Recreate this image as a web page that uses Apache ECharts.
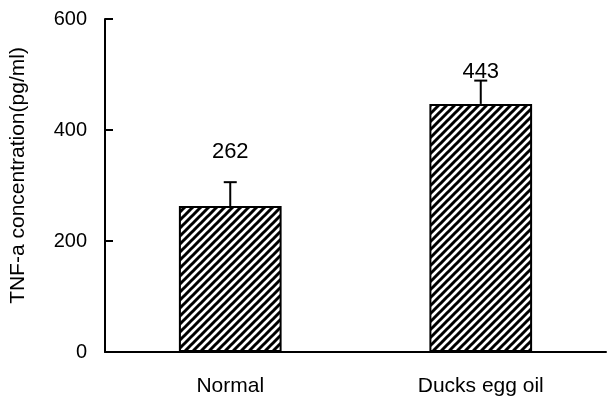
<!DOCTYPE html>
<html>
<head>
<meta charset="utf-8">
<script src="https://cdn.jsdelivr.net/npm/echarts@6/dist/echarts.min.js"></script>
<style>html,body{margin:0;padding:0;background:#fff}#c{width:608px;height:398px}</style>
</head>
<body>
<div id="c"></div>
<script>
var categories = ["Normal", "Ducks egg oil"];
var meanValues = [263, 447];
var errorTops = [306, 489];
var valueLabels = ["262", "443"];
var yTicks = [0, 200, 400, 600];

// hatch pattern
var tile = document.createElement('canvas');
var s = 8;
tile.width = s; tile.height = s;
var g = tile.getContext('2d');
g.fillStyle = '#fff'; g.fillRect(0, 0, s, s);
g.strokeStyle = '#000'; g.lineWidth = 3;
g.beginPath();
g.moveTo(-s, 2 * s); g.lineTo(2 * s, -s);
g.moveTo(-2 * s, 2 * s); g.lineTo(s, -s);
g.moveTo(0, 2 * s); g.lineTo(3 * s, -s);
g.stroke();

var labelDist = [43, 21];
var font = 'Liberation Sans, Arial, sans-serif';

var chart = echarts.init(document.getElementById('c'), null, {renderer: 'canvas'});
chart.setOption({
  animation: false,
  grid: {left: 102, right: 2, top: 19, bottom: 46},
  xAxis: {
    type: 'category',
    data: categories,
    boundaryGap: true,
    axisLine: {lineStyle: {color: '#000', width: 2}},
    axisTick: {inside: true, length: 7, lineStyle: {color: '#000', width: 2}},
    axisLabel: {color: '#000', fontSize: 21, fontFamily: font, margin: 24}
  },
  yAxis: {
    type: 'value',
    min: yTicks[0], max: yTicks[yTicks.length - 1], interval: 200,
    name: 'TNF-a concentration(pg/ml)',
    nameLocation: 'middle',
    nameGap: 76,
    nameTextStyle: {color: '#000', fontSize: 21, fontFamily: font, padding: [0, 0, 0, 20]},
    axisLine: {show: true, lineStyle: {color: '#000', width: 2}},
    axisTick: {show: true, inside: true, length: 8, lineStyle: {color: '#000', width: 2}},
    axisLabel: {color: '#000', fontSize: 20, fontFamily: font, margin: 18},
    splitLine: {show: false}
  },
  series: [
    {
      type: 'bar',
      barWidth: '41%',
      data: meanValues.map(function (v, i) {
        return {
          value: v,
          label: {show: true, position: 'top', distance: labelDist[i],
            formatter: valueLabels[i], color: '#000', fontSize: 22, fontFamily: font}
        };
      }),
      itemStyle: {color: {image: tile, repeat: 'repeat'}, borderColor: '#000', borderWidth: 2},
      z: 2
    },
    {
      type: 'custom',
      data: errorTops.map(function (e, i) { return [i, meanValues[i], e]; }),
      renderItem: function (params, api) {
        var base = api.coord([api.value(0), api.value(1)]);
        var top = api.coord([api.value(0), api.value(2)]);
        var x = base[0];
        return {
          type: 'group',
          children: [
            {type: 'line', shape: {x1: x, y1: base[1], x2: x, y2: top[1]}, style: {stroke: '#000', lineWidth: 2}},
            {type: 'line', shape: {x1: x - 6.5, y1: top[1], x2: x + 6.5, y2: top[1]}, style: {stroke: '#000', lineWidth: 2}}
          ]
        };
      },
      z: 3
    }
  ]
});
</script>
</body>
</html>
